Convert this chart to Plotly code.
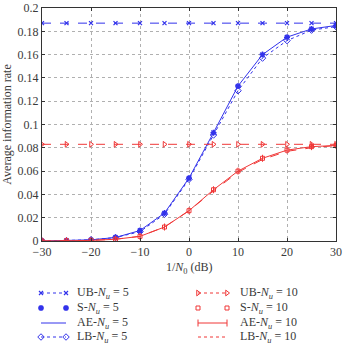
import plotly.graph_objects as go

snr = [-30, -25, -20, -15, -10, -5, 0, 5, 10, 15, 20, 25, 30]
ub5 = [0.187] * 13
s5 = [0.0, 0.0003, 0.001, 0.003, 0.009, 0.024, 0.054, 0.093, 0.133, 0.160, 0.175, 0.182, 0.185]
ae5 = [0.0, 0.0003, 0.001, 0.003, 0.009, 0.024, 0.054, 0.093, 0.133, 0.160, 0.175, 0.182, 0.185]
lb5 = [0.0, 0.0003, 0.001, 0.003, 0.008, 0.023, 0.053, 0.091, 0.129, 0.157, 0.172, 0.181, 0.184]
ub10 = [0.083] * 13
s10 = [0.0, 0.0002, 0.0005, 0.0015, 0.004, 0.012, 0.026, 0.044, 0.060, 0.071, 0.078, 0.081, 0.082]
ae10 = [0.0, 0.0002, 0.0005, 0.0015, 0.004, 0.012, 0.026, 0.044, 0.060, 0.071, 0.078, 0.081, 0.082]
lb10 = [0.0, 0.0002, 0.0005, 0.0015, 0.004, 0.012, 0.026, 0.043, 0.059, 0.070, 0.077, 0.080, 0.082]
x_ticks = [-30, -20, -10, 0, 10, 20, 30]
x_tick_text = ["\u221230", "\u221220", "\u221210", "0", "10", "20", "30"]
y_ticks = [0, 0.02, 0.04, 0.06, 0.08, 0.1, 0.12, 0.14, 0.16, 0.18, 0.2]
y_tick_text = ["0", "0.02", "0.04", "0.06", "0.08", "0.1", "0.12", "0.14", "0.16", "0.18", "0.2"]

BLUE = "rgb(50,50,235)"
RED = "rgb(240,55,55)"
FONT = "Liberation Serif"
TXT = "#3a3a3a"
FS = 12

W, H = 344, 343
x0, x1 = 42, 336
y_top, y_bot = 8, 241

# series specs: (name, y, color, mode, dash, symbol, size, marker line width)
specs = [
    ("UB-<i>N</i><sub><i>u</i></sub> = 5", ub5, BLUE, "lines+markers", "dash", "x-thin-open", 4, 1.2),
    ("S-<i>N</i><sub><i>u</i></sub> = 5", s5, BLUE, "markers", None, "asterisk-open", 5, 1.5),
    ("AE-<i>N</i><sub><i>u</i></sub> = 5", ae5, BLUE, "lines", "solid", None, 0, 0),
    ("LB-<i>N</i><sub><i>u</i></sub> = 5", lb5, BLUE, "lines+markers", "dot", "diamond-open", 5, 1.0),
    ("UB-<i>N</i><sub><i>u</i></sub> = 10", ub10, RED, "lines+markers", "dash", "triangle-right-open", 5, 1.0),
    ("S-<i>N</i><sub><i>u</i></sub> = 10", s10, RED, "markers", None, "square-open", 4, 1.0),
    ("AE-<i>N</i><sub><i>u</i></sub> = 10", ae10, RED, "lines+markers", "solid", "line-ns-open", 5, 1.0),
    ("LB-<i>N</i><sub><i>u</i></sub> = 10", lb10, RED, "lines", "dash", None, 0, 0),
]


def style(kw, col, mode, dash, sym, ms, mlw, legend=False):
    if "lines" in mode:
        d = dash
        if legend and dash == "dash":
            d = "3px,3px"
        kw["line"] = dict(color=col, width=1.0, dash=d)
    if "markers" in mode:
        kw["marker"] = dict(symbol=sym, size=ms, color=col, line=dict(color=col, width=mlw))
    return kw


fig = go.Figure()
for name, yv, col, mode, dash, sym, ms, mlw in specs:
    kw = dict(x=snr, y=yv, mode=mode, name=name, showlegend=False, xaxis="x", yaxis="y")
    fig.add_trace(go.Scatter(**style(kw, col, mode, dash, sym, ms, mlw)))

# manual legend on an auxiliary pixel-coordinate axis
rows = [293, 308, 323, 337]
cols = [(41, 66, 75), (198, 227, 238)]
annotations = []
for i, (name, yv, col, mode, dash, sym, ms, mlw) in enumerate(specs):
    c = cols[i // 4]
    r = rows[i % 4]
    kw = dict(x=[c[0], c[1]], y=[r, r], mode=mode, showlegend=False,
              xaxis="x2", yaxis="y2", hoverinfo="skip")
    fig.add_trace(go.Scatter(**style(kw, col, mode, dash, sym, ms, mlw, legend=True)))
    annotations.append(dict(x=c[2], y=r, xref="x2", yref="y2", text=name, showarrow=False,
                            xanchor="left", yanchor="middle",
                            font=dict(family=FONT, size=FS, color=TXT)))

annotations.append(dict(x=(x0 + x1) / 2, y=268, xref="x2", yref="y2",
                        text="1/<i>N</i><sub>0</sub> (dB)", showarrow=False,
                        font=dict(family=FONT, size=FS, color=TXT)))

axis_common = dict(showgrid=True, gridcolor="#b0b0b0", griddash="dot", gridwidth=1,
                   ticks="inside", ticklen=3, tickcolor="#333", mirror="allticks",
                   showline=True, linecolor="#333", linewidth=1, zeroline=False,
                   tickfont=dict(family=FONT, size=FS, color=TXT), automargin=False)

fig.update_layout(
    width=W, height=H,
    margin=dict(l=0, r=0, t=0, b=0),
    paper_bgcolor="white", plot_bgcolor="white",
    template="none",
    font=dict(family=FONT, color=TXT),
    annotations=annotations,
    xaxis=dict(domain=[x0 / W, x1 / W], range=[-30, 30], tickvals=x_ticks, ticktext=x_tick_text,
               anchor="y", **axis_common),
    yaxis=dict(domain=[(H - y_bot) / H, (H - y_top) / H], range=[0, 0.2],
               tickvals=y_ticks, ticktext=y_tick_text, anchor="x",
               title=dict(text="Average information rate", font=dict(family=FONT, size=FS, color=TXT),
                          standoff=9), **axis_common),
    xaxis2=dict(domain=[0, 1], range=[0, W], visible=False, anchor="y2", fixedrange=True),
    yaxis2=dict(domain=[0, (H - y_bot) / H], range=[H, y_bot], visible=False, anchor="x2", fixedrange=True),
)

fig.write_html("out.html")
